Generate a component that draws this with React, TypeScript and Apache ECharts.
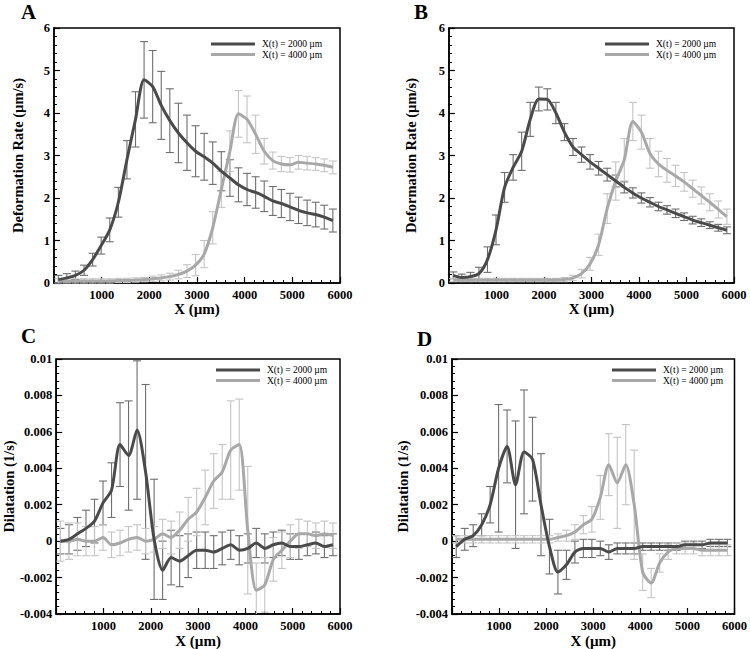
import React, { useEffect, useRef } from "react";
import * as echarts from "echarts";

// Sample positions along X (µm)
const X_UM = [90, 270, 450, 630, 810, 990, 1170, 1350, 1530, 1710, 1890, 2070, 2250, 2430, 2610, 2790, 2970, 3150, 3330, 3510, 3690, 3870, 4050, 4230, 4410, 4590, 4770, 4950, 5130, 5310, 5490, 5670, 5850];

// Panel A – deformation rate (µm/s)
const A_2000 = [0.08, 0.12, 0.18, 0.3, 0.55, 0.88, 1.25, 1.9, 2.9, 3.85, 4.78, 4.62, 4.18, 3.82, 3.53, 3.3, 3.1, 2.97, 2.82, 2.63, 2.47, 2.31, 2.2, 2.13, 2.04, 1.93, 1.87, 1.79, 1.71, 1.65, 1.61, 1.55, 1.47];
const A_2000_ERR = [0.1, 0.1, 0.1, 0.12, 0.15, 0.2, 0.28, 0.35, 0.45, 0.65, 0.9, 0.85, 0.8, 0.75, 0.7, 0.65, 0.6, 0.55, 0.5, 0.46, 0.43, 0.4, 0.38, 0.37, 0.36, 0.34, 0.33, 0.32, 0.31, 0.3, 0.29, 0.28, 0.27];
const A_4000 = [0.05, 0.05, 0.05, 0.05, 0.05, 0.05, 0.05, 0.06, 0.06, 0.07, 0.08, 0.1, 0.12, 0.15, 0.2, 0.28, 0.42, 0.68, 1.3, 2.2, 3.1, 3.98, 3.85, 3.5, 3.1, 2.88, 2.8, 2.78, 2.84, 2.82, 2.8, 2.77, 2.72];
const A_4000_ERR = [0.05, 0.05, 0.05, 0.05, 0.05, 0.05, 0.05, 0.05, 0.05, 0.05, 0.05, 0.06, 0.07, 0.08, 0.1, 0.15, 0.25, 0.32, 0.38, 0.42, 0.48, 0.55, 0.55, 0.45, 0.3, 0.2, 0.18, 0.17, 0.16, 0.16, 0.15, 0.15, 0.15];

// Panel B – deformation rate (µm/s)
const B_2000 = [0.18, 0.13, 0.15, 0.22, 0.55, 1.25, 2.25, 2.72, 3.1, 3.85, 4.33, 4.32, 4.0, 3.55, 3.2, 3.02, 2.85, 2.7, 2.55, 2.4, 2.25, 2.12, 2.0, 1.9, 1.8, 1.72, 1.64, 1.56, 1.48, 1.42, 1.36, 1.3, 1.24];
const B_2000_ERR = [0.08, 0.08, 0.1, 0.15, 0.3, 0.35, 0.35, 0.3, 0.45, 0.4, 0.28, 0.25, 0.25, 0.2, 0.2, 0.18, 0.17, 0.16, 0.15, 0.14, 0.13, 0.12, 0.12, 0.11, 0.1, 0.1, 0.1, 0.09, 0.09, 0.09, 0.08, 0.08, 0.08];
const B_4000 = [0.07, 0.07, 0.07, 0.07, 0.07, 0.07, 0.07, 0.07, 0.07, 0.07, 0.07, 0.07, 0.07, 0.08, 0.12, 0.22, 0.45, 0.9, 1.75, 2.4, 2.9, 3.8, 3.55, 3.05, 2.8, 2.65, 2.52, 2.38, 2.22, 2.06, 1.9, 1.73, 1.56];
const B_4000_ERR = [0.04, 0.04, 0.04, 0.04, 0.04, 0.04, 0.04, 0.04, 0.04, 0.04, 0.04, 0.04, 0.04, 0.05, 0.06, 0.1, 0.15, 0.25, 0.35, 0.45, 0.5, 0.45, 0.4, 0.35, 0.3, 0.28, 0.25, 0.22, 0.2, 0.2, 0.2, 0.2, 0.18];

// Panel C – dilatation (1/s)
const C_2000 = [0, 0.0001, 0.0004, 0.0007, 0.0011, 0.0021, 0.0028, 0.0053, 0.0047, 0.0061, 0.0038, 0.0001, -0.0016, -0.0009, -0.0011, -0.0008, -0.0005, -0.0005, -0.0006, -0.0004, -0.0002, -0.0005, -0.0004, -0.0001, -0.0004, -0.0002, -0.0001, -0.0003, -0.0003, -0.0002, -0.0001, -0.0003, -0.0002];
const C_2000_ERR = [0.0007, 0.0008, 0.0009, 0.001, 0.0012, 0.0012, 0.0015, 0.0023, 0.003, 0.0038, 0.0048, 0.0033, 0.0016, 0.0015, 0.0014, 0.0012, 0.001, 0.001, 0.0009, 0.0009, 0.0008, 0.0008, 0.0008, 0.0008, 0.0008, 0.0007, 0.0007, 0.0007, 0.0007, 0.0006, 0.0006, 0.0006, 0.0006];
const C_4000 = [0, 0, 0.0001, 0, 0, 0.0002, -0.0002, -0.0001, 0.0001, 0.0002, 0, 0.0001, 0.0004, 0.0002, 0.0006, 0.0012, 0.0016, 0.0024, 0.0033, 0.0038, 0.005, 0.0053, 0.0006, -0.0027, -0.0024, -0.001, -0.0005, 0, 0.0004, 0.0004, 0.0003, 0.0004, 0.0003];
const C_4000_ERR = [0.0011, 0.001, 0.0009, 0.0008, 0.0008, 0.0007, 0.0007, 0.0007, 0.0007, 0.0007, 0.0007, 0.0007, 0.0008, 0.0009, 0.001, 0.0012, 0.0013, 0.0015, 0.0015, 0.0015, 0.0027, 0.0025, 0.0035, 0.0015, 0.0015, 0.0012, 0.001, 0.0009, 0.0008, 0.0007, 0.0007, 0.0007, 0.0007];

// Panel D – dilatation (1/s)
const D_2000 = [-0.0003, 0.0001, 0.0003, 0.0009, 0.002, 0.004, 0.0052, 0.0031, 0.0049, 0.0045, 0.002, -0.0003, -0.0017, -0.0013, -0.0006, -0.0004, -0.0004, -0.0004, -0.0006, -0.0004, -0.0004, -0.0004, -0.0003, -0.0003, -0.0003, -0.0003, -0.0003, -0.0002, -0.0002, -0.0002, -0.0001, -0.0001, -0.0001];
const D_2000_ERR = [0.0006, 0.0006, 0.0006, 0.0006, 0.001, 0.0035, 0.002, 0.0035, 0.0034, 0.0023, 0.0028, 0.0015, 0.0012, 0.0008, 0.0006, 0.0005, 0.0005, 0.0004, 0.0004, 0.0003, 0.0003, 0.0003, 0.0002, 0.0002, 0.0002, 0.0002, 0.0002, 0.0002, 0.0002, 0.0002, 0.0002, 0.0002, 0.0002];
const D_4000 = [0.0001, 0.0001, 0.0001, 0.0001, 0.0001, 0.0001, 0.0001, 0.0001, 0.0001, 0.0001, 0.0001, 0.0001, 0.0002, 0.0003, 0.0005, 0.0009, 0.0012, 0.0024, 0.0042, 0.0032, 0.0042, 0.002, -0.0017, -0.0023, -0.0012, -0.0006, -0.0004, -0.0004, -0.0004, -0.0005, -0.0005, -0.0005, -0.0005];
const D_4000_ERR = [0.0002, 0.0002, 0.0002, 0.0002, 0.0002, 0.0002, 0.0002, 0.0002, 0.0002, 0.0002, 0.0002, 0.0002, 0.0002, 0.0003, 0.0004, 0.0005, 0.0007, 0.0012, 0.0017, 0.0025, 0.0022, 0.003, 0.001, 0.0008, 0.0005, 0.0004, 0.0003, 0.0003, 0.0003, 0.0003, 0.0003, 0.0003, 0.0003];

const X_TICKS_MAX = 6000;
const RATE_Y = { min: 0, max: 6, interval: 1 };
const DIL_Y = { min: -0.004, max: 0.01, interval: 0.002 };

const NAME_2000 = "X(t) = 2000 µm";
const NAME_4000 = "X(t) = 4000 µm";
const PANEL_LABELS = ["A", "B", "C", "D"];

const DARK = "#4a4a4a";
const LIGHT = "#a8a8a8";
const DARK_ERR = "#6e6e6e";
const LIGHT_ERR = "#c4c4c4";
const FONT = '"Liberation Serif", "Times New Roman", serif';

const GRIDS = [
  { left: 54, top: 28, width: 286, height: 255 },
  { left: 449, top: 28, width: 285, height: 255 },
  { left: 54, top: 359, width: 286, height: 255 },
  { left: 452, top: 359, width: 285, height: 255 },
];

function lineData(vals: number[]) {
  return X_UM.map((x, i) => [x, vals[i]]);
}
function errData(vals: number[], errs: number[]) {
  return X_UM.map((x, i) => [x, vals[i] - errs[i], vals[i] + errs[i]]);
}

function makeErrRender(color: string) {
  return (params: any, api: any) => {
    const x = api.value(0);
    const lo = api.coord([x, api.value(1)]);
    const hi = api.coord([x, api.value(2)]);
    const cs = params.coordSys;
    const top = cs.y;
    const bottom = cs.y + cs.height;
    const hw = 4;
    const style = { stroke: color, lineWidth: 1.1 };
    const children: any[] = [];
    const y1 = Math.min(Math.max(hi[1], top), bottom);
    const y2 = Math.min(Math.max(lo[1], top), bottom);
    children.push({ type: "line", shape: { x1: lo[0], y1, x2: lo[0], y2 }, style });
    if (hi[1] >= top && hi[1] <= bottom)
      children.push({ type: "line", shape: { x1: hi[0] - hw, y1: hi[1], x2: hi[0] + hw, y2: hi[1] }, style });
    if (lo[1] >= top && lo[1] <= bottom)
      children.push({ type: "line", shape: { x1: lo[0] - hw, y1: lo[1], x2: lo[0] + hw, y2: lo[1] }, style });
    return { type: "group", children };
  };
}

function fmtDil(v: number) {
  if (Math.abs(v) < 1e-9) return "0";
  return String(parseFloat(v.toFixed(3)));
}

export default function App() {
  const ref = useRef<HTMLDivElement>(null);
  useEffect(() => {
    if (!ref.current) return;
    const chart = echarts.init(ref.current, null, { renderer: "svg" });

    const panels = [
      { d: A_2000, de: A_2000_ERR, l: A_4000, le: A_4000_ERR, y: RATE_Y, name: "Deformation Rate (µm/s)", gap: 29, xgap: 16 },
      { d: B_2000, de: B_2000_ERR, l: B_4000, le: B_4000_ERR, y: RATE_Y, name: "Deformation Rate (µm/s)", gap: 31, xgap: 16 },
      { d: C_2000, de: C_2000_ERR, l: C_4000, le: C_4000_ERR, y: DIL_Y, name: "Dilatation (1/s)", gap: 40, xgap: 19 },
      { d: D_2000, de: D_2000_ERR, l: D_4000, le: D_4000_ERR, y: DIL_Y, name: "Dilatation (1/s)", gap: 42, xgap: 19 },
    ];

    const labelStyle = { fontFamily: FONT, fontWeight: "bold" as const, fontSize: 12.5, color: "#000" };
    const nameStyle = { fontFamily: FONT, fontWeight: "bold" as const, fontSize: 14.5, color: "#000" };

    const grid = GRIDS.map((g) => ({
      ...g,
      show: true,
      borderColor: "#000",
      borderWidth: 1.5,
      backgroundColor: "transparent",
      containLabel: false,
    }));

    const xAxis = panels.map((p, i) => ({
      type: "value",
      gridIndex: i,
      min: 0,
      max: X_TICKS_MAX,
      interval: 1000,
      name: "X (µm)",
      nameLocation: "middle",
      nameGap: p.xgap,
      nameTextStyle: { ...nameStyle, fontSize: 15 },
      axisLine: { show: true, onZero: false, lineStyle: { color: "#000", width: 1.5 } },
      axisTick: { show: true, inside: true, length: 6, lineStyle: { color: "#000", width: 1.2 } },
      minorTick: { show: true, splitNumber: 5, length: 3, lineStyle: { color: "#000", width: 1 } },
      axisLabel: { ...labelStyle, margin: 5, showMinLabel: false, formatter: (v: number) => String(Math.round(v)) },
      splitLine: { show: false },
    }));

    const yAxis = panels.map((p, i) => ({
      type: "value",
      gridIndex: i,
      min: p.y.min,
      max: p.y.max,
      interval: p.y.interval,
      name: p.name,
      nameLocation: "middle",
      nameGap: p.gap,
      nameTextStyle: nameStyle,
      axisLine: { show: true, onZero: false, lineStyle: { color: "#000", width: 1.5 } },
      axisTick: { show: true, inside: true, length: 6, lineStyle: { color: "#000", width: 1.2 } },
      minorTick: { show: true, splitNumber: 5, length: 3, lineStyle: { color: "#000", width: 1 } },
      axisLabel: {
        ...labelStyle,
        margin: 4,
        formatter: i < 2 ? (v: number) => String(Math.round(v)) : (v: number) => fmtDil(v),
      },
      splitLine: { show: false },
    }));

    const series: any[] = [];
    panels.forEach((p, i) => {
      series.push({
        type: "custom",
        name: "err2000_" + i,
        xAxisIndex: i,
        yAxisIndex: i,
        renderItem: makeErrRender(DARK_ERR),
        data: errData(p.d, p.de),
        encode: { x: 0, y: [1, 2] },
        z: 2,
        silent: true,
      });
      series.push({
        type: "custom",
        name: "err4000_" + i,
        xAxisIndex: i,
        yAxisIndex: i,
        renderItem: makeErrRender(LIGHT_ERR),
        data: errData(p.l, p.le),
        encode: { x: 0, y: [1, 2] },
        z: 2,
        silent: true,
      });
      series.push({
        type: "line",
        name: NAME_4000,
        xAxisIndex: i,
        yAxisIndex: i,
        data: lineData(p.l),
        showSymbol: false,
        symbol: "none",
        smooth: 0.25,
        lineStyle: { color: LIGHT, width: 3 },
        itemStyle: { color: LIGHT },
        z: 3,
      });
      series.push({
        type: "line",
        name: NAME_2000,
        xAxisIndex: i,
        yAxisIndex: i,
        data: lineData(p.d),
        showSymbol: false,
        symbol: "none",
        smooth: 0.25,
        lineStyle: { color: DARK, width: 3 },
        itemStyle: { color: DARK },
        z: 4,
      });
    });

    const legendPos = [
      { left: 211, top: 39 },
      { left: 605, top: 39 },
      { left: 216, top: 365 },
      { left: 612, top: 365 },
    ];
    const legend = legendPos.map((pos) => ({
      ...pos,
      orient: "vertical",
      data: [NAME_2000, NAME_4000],
      icon: "rect",
      itemWidth: 44,
      itemHeight: 3,
      itemGap: 0.5,
      padding: 0,
      selectedMode: false,
      textStyle: { fontFamily: FONT, fontSize: 9.5, color: "#000", lineHeight: 9, padding: [0, 0, 0, 2] },
    }));

    const letterPos = [
      { x: 21, y: 12 },
      { x: 414, y: 12 },
      { x: 21, y: 336 },
      { x: 417, y: 339 },
    ];
    const graphic = PANEL_LABELS.map((t, i) => ({
      type: "text",
      x: letterPos[i].x,
      y: letterPos[i].y,
      style: {
        text: t,
        fontFamily: FONT,
        fontWeight: "bold",
        fontSize: 21,
        fill: "#000",
        verticalAlign: "middle",
        align: "left",
      },
    }));

    chart.setOption({
      animation: false,
      backgroundColor: "#fff",
      grid,
      xAxis,
      yAxis,
      legend,
      series,
      graphic,
    });

    return () => chart.dispose();
  }, []);

  return (
    <div
      ref={ref}
      style={{ position: "fixed", left: 0, top: 0, width: 750, height: 649, background: "#fff" }}
    />
  );
}
